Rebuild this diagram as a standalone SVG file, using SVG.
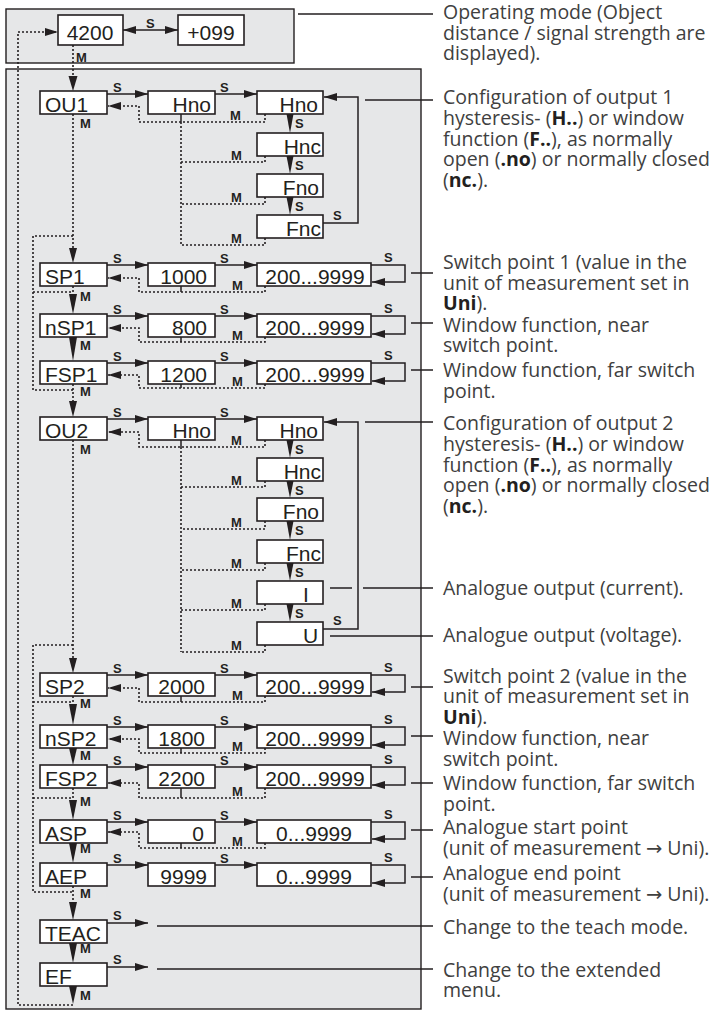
<svg xmlns="http://www.w3.org/2000/svg" width="718" height="1012" viewBox="0 0 718 1012">
<style>
.panel{fill:#e6e7e8;stroke:#231f20;stroke-width:1.4}
.box{fill:#fff;stroke:#231f20;stroke-width:1.6}
.ln{fill:none;stroke:#231f20;stroke-width:1.5}
.dt{fill:none;stroke:#231f20;stroke-width:1.6;stroke-dasharray:2 2}
.ah{fill:#231f20}
.bt{font-family:"Liberation Sans",Arial,sans-serif;font-size:21px;fill:#231f20}
.lb{font-family:"Liberation Sans",Arial,sans-serif;font-size:13px;font-weight:bold;fill:#231f20}
.tx{font-family:"Open Sans","Noto Sans","DejaVu Sans",sans-serif;font-size:19.5px;fill:#404040}
.b{font-weight:bold;fill:#231f20}
</style>
<defs>
<marker id="a" viewBox="0 0 13 8" refX="13" refY="4" markerWidth="13" markerHeight="8" markerUnits="userSpaceOnUse" orient="auto-start-reverse"><path d="M0,0 L13,4 L0,8 z" fill="#231f20"/></marker>
</defs>
<rect class="panel" x="6" y="9" width="288" height="54"/>
<rect class="panel" x="6" y="69" width="415" height="940"/>

<g id="connectors">
<path class="ln" d="M123,30 H178" marker-start="url(#a)" marker-end="url(#a)"/>
<text class="lb" x="146" y="28">S</text>
<path class="dt" d="M73,45 V76"/><polygon class="ah" points="68.5,76 77.5,76 73,91"/>
<text class="lb" x="76" y="62">M</text>
<path class="dt" d="M73,1005 H18 V32 H58" marker-end="url(#a)"/>
<path class="ln" d="M107,94 H148" marker-end="url(#a)"/><text class="lb" x="113" y="92">S</text>
<path class="ln" d="M215,94 H257" marker-end="url(#a)"/><text class="lb" x="220" y="92">S</text>
<path class="dt" d="M265,114 V122 H139 V106 H108" marker-end="url(#a)"/>
<path class="ln" d="M181,114 V122"/>
<path class="dt" d="M181,122 V245"/>
<path class="dt" d="M265,156 V162 H181 M265,197 V204 H181 M265,238 V245 H181"/>
<text class="lb" x="230" y="119.5">M</text><text class="lb" x="231" y="159.5">M</text><text class="lb" x="231" y="201.5">M</text><text class="lb" x="231" y="242.5">M</text>
<polygon class="ah" points="286.5,114 293.5,114 290,133"/><text class="lb" x="295" y="128">S</text>
<polygon class="ah" points="286.5,156 293.5,156 290,174"/><text class="lb" x="295" y="170">S</text>
<polygon class="ah" points="286.5,197 293.5,197 290,215"/><text class="lb" x="295" y="211">S</text>
<path class="ln" d="M323,223 H358 V97 H324" marker-end="url(#a)"/><text class="lb" x="333" y="220">S</text>
<path class="dt" d="M73,114 V248"/><polygon class="ah" points="69,248 77,248 73,263"/><text class="lb" x="80" y="128">M</text>
<path class="dt" d="M73,236 H33 V390 H73 M33,292 H73"/>
<path class="ln" d="M107,265 H148" marker-end="url(#a)"/><text class="lb" x="113" y="263">S</text>
<path class="ln" d="M215,265 H257" marker-end="url(#a)"/><text class="lb" x="220" y="263">S</text>
<path class="dt" d="M265,286 V292 H139 V278 H108" marker-end="url(#a)"/><path class="ln" d="M181,286 V292"/><text class="lb" x="232" y="290">M</text>
<path class="ln" d="M371,265 H405 V282 H372" marker-end="url(#a)"/><text class="lb" x="384" y="262">S</text>
<path class="dt" d="M73,286 V294"/><polygon class="ah" points="69,294 77,294 73,314"/><text class="lb" x="80" y="301">M</text>
<path class="ln" d="M107,316 H148" marker-end="url(#a)"/><text class="lb" x="113" y="314">S</text>
<path class="ln" d="M215,316 H257" marker-end="url(#a)"/><text class="lb" x="220" y="314">S</text>
<path class="dt" d="M265,337 V342 H139 V328 H108" marker-end="url(#a)"/><path class="ln" d="M181,337 V342"/><text class="lb" x="232" y="340">M</text>
<path class="ln" d="M371,316 H405 V334 H372" marker-end="url(#a)"/><text class="lb" x="384" y="313">S</text>
<polygon class="ah" points="69,337 77,337 73,361"/><text class="lb" x="80" y="350">M</text>
<path class="ln" d="M107,363 H148" marker-end="url(#a)"/><text class="lb" x="113" y="361">S</text>
<path class="ln" d="M215,363 H257" marker-end="url(#a)"/><text class="lb" x="220" y="361">S</text>
<path class="dt" d="M265,384 V388 H139 V375 H108" marker-end="url(#a)"/><path class="ln" d="M181,384 V388"/><text class="lb" x="232" y="386">M</text>
<path class="ln" d="M371,363 H405 V381 H372" marker-end="url(#a)"/><text class="lb" x="384" y="360">S</text>
<path class="dt" d="M73,384 V401"/><polygon class="ah" points="69,401 77,401 73,417"/><text class="lb" x="80" y="396">M</text>
<path class="ln" d="M107,419 H148" marker-end="url(#a)"/><text class="lb" x="113" y="417">S</text>
<path class="ln" d="M215,419 H257" marker-end="url(#a)"/><text class="lb" x="220" y="417">S</text>
<path class="dt" d="M265,440 V447 H139 V432 H108" marker-end="url(#a)"/>
<path class="ln" d="M181,440 V447"/>
<path class="dt" d="M181,447 V652"/>
<path class="dt" d="M265,481 V487 H181 M265,521 V529 H181 M265,563 V570 H181 M265,604 V610 H181 M265,645 V652 H181"/>
<text class="lb" x="231" y="444.5">M</text><text class="lb" x="231" y="484.5">M</text><text class="lb" x="231" y="526.5">M</text><text class="lb" x="231" y="567.5">M</text><text class="lb" x="231" y="607.5">M</text><text class="lb" x="231" y="649.5">M</text>
<polygon class="ah" points="286.5,440 293.5,440 290,458"/><text class="lb" x="295" y="454">S</text>
<polygon class="ah" points="286.5,481 293.5,481 290,498"/><text class="lb" x="295" y="495">S</text>
<polygon class="ah" points="286.5,521 293.5,521 290,540"/><text class="lb" x="295" y="535">S</text>
<polygon class="ah" points="286.5,563 293.5,563 290,581"/><text class="lb" x="295" y="577">S</text>
<polygon class="ah" points="286.5,604 293.5,604 290,622"/><text class="lb" x="295" y="618">S</text>
<path class="ln" d="M323,629 H358 V422 H324" marker-end="url(#a)"/><text class="lb" x="333" y="625">S</text>
<path class="dt" d="M73,440 V658"/><polygon class="ah" points="69,658 77,658 73,673"/><text class="lb" x="80" y="454">M</text>
<path class="dt" d="M73,645 H33 V892 H73 M33,702 H73 M33,798 H73"/>
<path class="ln" d="M107,675 H148" marker-end="url(#a)"/><text class="lb" x="113" y="673">S</text>
<path class="ln" d="M215,675 H257" marker-end="url(#a)"/><text class="lb" x="220" y="673">S</text>
<path class="dt" d="M265,696 V702 H139 V688 H108" marker-end="url(#a)"/><path class="ln" d="M181,696 V702"/><text class="lb" x="232" y="700">M</text>
<path class="ln" d="M371,675 H405 V692 H372" marker-end="url(#a)"/><text class="lb" x="384" y="672">S</text>
<path class="dt" d="M73,696 V704"/><polygon class="ah" points="69,704 77,704 73,725"/><text class="lb" x="80" y="708">M</text>
<path class="ln" d="M107,727 H148" marker-end="url(#a)"/><text class="lb" x="113" y="725">S</text>
<path class="ln" d="M215,727 H257" marker-end="url(#a)"/><text class="lb" x="220" y="725">S</text>
<path class="dt" d="M265,748 V753 H139 V739 H108" marker-end="url(#a)"/><path class="ln" d="M181,748 V753"/><text class="lb" x="232" y="751">M</text>
<path class="ln" d="M371,727 H405 V745 H372" marker-end="url(#a)"/><text class="lb" x="384" y="724">S</text>
<polygon class="ah" points="69,748 77,748 73,765"/><text class="lb" x="80" y="760">M</text>
<path class="ln" d="M107,767 H148" marker-end="url(#a)"/><text class="lb" x="113" y="765">S</text>
<path class="ln" d="M215,767 H257" marker-end="url(#a)"/><text class="lb" x="220" y="765">S</text>
<path class="dt" d="M265,788 V798 H139 V783 H108" marker-end="url(#a)"/><path class="ln" d="M181,788 V798"/><text class="lb" x="232" y="796">M</text>
<path class="ln" d="M371,767 H405 V785 H372" marker-end="url(#a)"/><text class="lb" x="384" y="764">S</text>
<path class="dt" d="M73,788 V800"/><polygon class="ah" points="69,800 77,800 73,820"/><text class="lb" x="80" y="806">M</text>
<path class="ln" d="M107,822 H148" marker-end="url(#a)"/><text class="lb" x="113" y="820">S</text>
<path class="ln" d="M215,822 H257" marker-end="url(#a)"/><text class="lb" x="220" y="820">S</text>
<path class="dt" d="M265,843 V848 H139 V832 H108" marker-end="url(#a)"/><path class="ln" d="M181,843 V848"/><text class="lb" x="232" y="846">M</text>
<path class="ln" d="M371,822 H405 V839 H372" marker-end="url(#a)"/><text class="lb" x="384" y="819">S</text>
<polygon class="ah" points="69,843 77,843 73,863"/><text class="lb" x="80" y="853">M</text>
<path class="ln" d="M107,865 H148" marker-end="url(#a)"/><text class="lb" x="113" y="863">S</text>
<path class="ln" d="M215,865 H257" marker-end="url(#a)"/><text class="lb" x="220" y="863">S</text>
<path class="ln" d="M371,865 H405 V883 H372" marker-end="url(#a)"/><text class="lb" x="384" y="862">S</text>
<path class="dt" d="M73,886 V902"/><polygon class="ah" points="69,902 77,902 73,920"/><text class="lb" x="80" y="898">M</text>
<path class="ln" d="M107,923 H148" marker-end="url(#a)"/><text class="lb" x="113" y="920">S</text>
<polygon class="ah" points="69,943 77,943 73,963"/><text class="lb" x="80" y="953">M</text>
<path class="ln" d="M107,967 H148" marker-end="url(#a)"/><text class="lb" x="113" y="964">S</text>
<polygon class="ah" points="69,986 77,986 73,1004"/><text class="lb" x="80" y="1000">M</text>
<path class="ln" d="M298,14 H433 M365,100 H433 M411,273 H433 M411,323 H433 M411,370 H433 M365,422 H433 M330,588 H352 M363,588 H433 M330,636 H433 M411,687 H433 M411,736 H433 M411,783 H433 M411,830 H433 M411,877 H433 M157,926 H433 M157,969 H433"/>
</g>

<g id="n4200"><rect class="box" x="58" y="15" width="65" height="30"/><text class="bt" x="90" y="40" text-anchor="middle">4200</text></g>
<g id="n099"><rect class="box" x="178" y="15" width="66" height="30"/><text class="bt" x="211" y="40" text-anchor="middle">+099</text></g>

<g id="OU1"><rect class="box" x="40" y="91" width="67" height="23"/><text class="bt" x="45" y="111.5">OU1</text></g>
<g id="OU1v"><rect class="box" x="148" y="91" width="67" height="23"/><text class="bt" x="211" y="111.5" text-anchor="end">Hno</text></g>
<g id="OU1Hno"><rect class="box" x="257" y="91" width="66" height="23"/><text class="bt" x="318" y="111.5" text-anchor="end">Hno</text></g>
<g id="OU1Hnc"><rect class="box" x="257" y="133" width="66" height="23"/><text class="bt" x="321" y="153.5" text-anchor="end">Hnc</text></g>
<g id="OU1Fno"><rect class="box" x="257" y="174" width="66" height="23"/><text class="bt" x="319" y="194.5" text-anchor="end">Fno</text></g>
<g id="OU1Fnc"><rect class="box" x="257" y="215" width="66" height="23"/><text class="bt" x="321" y="235.5" text-anchor="end">Fnc</text></g>

<g id="SP1"><rect class="box" x="40" y="263" width="67" height="23"/><text class="bt" x="45" y="283.5">SP1</text></g>
<g id="SP1v"><rect class="box" x="148" y="263" width="67" height="23"/><text class="bt" x="207" y="283.5" text-anchor="end">1000</text></g>
<g id="SP1r"><rect class="box" x="257" y="263" width="114" height="23"/><text class="bt" x="315" y="283.5" text-anchor="middle">200...9999</text></g>

<g id="nSP1"><rect class="box" x="40" y="314" width="67" height="23"/><text class="bt" x="45" y="334.5">nSP1</text></g>
<g id="nSP1v"><rect class="box" x="148" y="314" width="67" height="23"/><text class="bt" x="207" y="334.5" text-anchor="end">800</text></g>
<g id="nSP1r"><rect class="box" x="257" y="314" width="114" height="23"/><text class="bt" x="315" y="334.5" text-anchor="middle">200...9999</text></g>

<g id="FSP1"><rect class="box" x="40" y="361" width="67" height="23"/><text class="bt" x="45" y="381.5">FSP1</text></g>
<g id="FSP1v"><rect class="box" x="148" y="361" width="67" height="23"/><text class="bt" x="207" y="381.5" text-anchor="end">1200</text></g>
<g id="FSP1r"><rect class="box" x="257" y="361" width="114" height="23"/><text class="bt" x="315" y="381.5" text-anchor="middle">200...9999</text></g>

<g id="OU2"><rect class="box" x="40" y="417" width="67" height="23"/><text class="bt" x="45" y="437.5">OU2</text></g>
<g id="OU2v"><rect class="box" x="148" y="417" width="67" height="23"/><text class="bt" x="211" y="437.5" text-anchor="end">Hno</text></g>
<g id="OU2Hno"><rect class="box" x="257" y="417" width="66" height="23"/><text class="bt" x="318" y="437.5" text-anchor="end">Hno</text></g>
<g id="OU2Hnc"><rect class="box" x="257" y="458" width="66" height="23"/><text class="bt" x="321" y="478.5" text-anchor="end">Hnc</text></g>
<g id="OU2Fno"><rect class="box" x="257" y="498" width="66" height="23"/><text class="bt" x="319" y="518.5" text-anchor="end">Fno</text></g>
<g id="OU2Fnc"><rect class="box" x="257" y="540" width="66" height="23"/><text class="bt" x="321" y="560.5" text-anchor="end">Fnc</text></g>
<g id="OU2I"><rect class="box" x="257" y="581" width="66" height="23"/><text class="bt" x="303" y="601.5">I</text></g>
<g id="OU2U"><rect class="box" x="257" y="622" width="66" height="23"/><text class="bt" x="303" y="642.5">U</text></g>

<g id="SP2"><rect class="box" x="40" y="673" width="67" height="23"/><text class="bt" x="45" y="693.5">SP2</text></g>
<g id="SP2v"><rect class="box" x="148" y="673" width="67" height="23"/><text class="bt" x="205" y="693.5" text-anchor="end">2000</text></g>
<g id="SP2r"><rect class="box" x="257" y="673" width="114" height="23"/><text class="bt" x="315" y="693.5" text-anchor="middle">200...9999</text></g>

<g id="nSP2"><rect class="box" x="40" y="725" width="67" height="23"/><text class="bt" x="45" y="745.5">nSP2</text></g>
<g id="nSP2v"><rect class="box" x="148" y="725" width="67" height="23"/><text class="bt" x="205" y="745.5" text-anchor="end">1800</text></g>
<g id="nSP2r"><rect class="box" x="257" y="725" width="114" height="23"/><text class="bt" x="315" y="745.5" text-anchor="middle">200...9999</text></g>

<g id="FSP2"><rect class="box" x="40" y="765" width="67" height="23"/><text class="bt" x="45" y="785.5">FSP2</text></g>
<g id="FSP2v"><rect class="box" x="148" y="765" width="67" height="23"/><text class="bt" x="205" y="785.5" text-anchor="end">2200</text></g>
<g id="FSP2r"><rect class="box" x="257" y="765" width="114" height="23"/><text class="bt" x="315" y="785.5" text-anchor="middle">200...9999</text></g>

<g id="ASP"><rect class="box" x="40" y="820" width="67" height="23"/><text class="bt" x="45" y="840.5">ASP</text></g>
<g id="ASPv"><rect class="box" x="148" y="820" width="67" height="23"/><text class="bt" x="204" y="840.5" text-anchor="end">0</text></g>
<g id="ASPr"><rect class="box" x="257" y="820" width="114" height="23"/><text class="bt" x="314" y="840.5" text-anchor="middle">0...9999</text></g>

<g id="AEP"><rect class="box" x="40" y="863" width="67" height="23"/><text class="bt" x="45" y="883.5">AEP</text></g>
<g id="AEPv"><rect class="box" x="148" y="863" width="67" height="23"/><text class="bt" x="207" y="883.5" text-anchor="end">9999</text></g>
<g id="AEPr"><rect class="box" x="257" y="863" width="114" height="23"/><text class="bt" x="314" y="883.5" text-anchor="middle">0...9999</text></g>

<g id="TEAC"><rect class="box" x="40" y="920" width="67" height="23"/><text class="bt" x="45" y="940.5">TEAC</text></g>
<g id="EF"><rect class="box" x="40" y="963" width="67" height="23"/><text class="bt" x="45" y="983.5">EF</text></g>

<g id="descriptions">
<text class="tx" x="443" y="19"><tspan x="443" y="19">Operating mode (Object</tspan><tspan x="443" y="39.5">distance / signal strength are</tspan><tspan x="443" y="60">displayed).</tspan></text>
<text class="tx" x="443" y="104"><tspan x="443" y="104">Configuration of output 1</tspan><tspan x="443" y="125">hysteresis- (<tspan class="b">H..</tspan>) or window</tspan><tspan x="443" y="145.5">function (<tspan class="b">F..</tspan>), as normally</tspan><tspan x="443" y="166">open (<tspan class="b">.no</tspan>) or normally closed</tspan><tspan x="443" y="187">(<tspan class="b">nc.</tspan>).</tspan></text>
<text class="tx" x="443" y="269"><tspan x="443" y="269">Switch point 1 (value in the</tspan><tspan x="443" y="289.5">unit of measurement set in</tspan><tspan x="443" y="310"><tspan class="b">Uni</tspan>).</tspan></text>
<text class="tx" x="443" y="331.5"><tspan x="443" y="331.5">Window function, near</tspan><tspan x="443" y="352">switch point.</tspan></text>
<text class="tx" x="443" y="377"><tspan x="443" y="377">Window function, far switch</tspan><tspan x="443" y="397.5">point.</tspan></text>
<text class="tx" x="443" y="430"><tspan x="443" y="430">Configuration of output 2</tspan><tspan x="443" y="451">hysteresis- (<tspan class="b">H..</tspan>) or window</tspan><tspan x="443" y="471.5">function (<tspan class="b">F..</tspan>), as normally</tspan><tspan x="443" y="492">open (<tspan class="b">.no</tspan>) or normally closed</tspan><tspan x="443" y="513">(<tspan class="b">nc.</tspan>).</tspan></text>
<text class="tx" x="443" y="595">Analogue output (current).</text>
<text class="tx" x="443" y="641.5">Analogue output (voltage).</text>
<text class="tx" x="443" y="682.5"><tspan x="443" y="682.5">Switch point 2 (value in the</tspan><tspan x="443" y="703">unit of measurement set in</tspan><tspan x="443" y="723.5"><tspan class="b">Uni</tspan>).</tspan></text>
<text class="tx" x="443" y="745"><tspan x="443" y="745">Window function, near</tspan><tspan x="443" y="765.5">switch point.</tspan></text>
<text class="tx" x="443" y="790"><tspan x="443" y="790">Window function, far switch</tspan><tspan x="443" y="810.5">point.</tspan></text>
<text class="tx" x="443" y="834"><tspan x="443" y="834">Analogue start point</tspan><tspan x="443" y="854.5">(unit of measurement → Uni).</tspan></text>
<text class="tx" x="443" y="880"><tspan x="443" y="880">Analogue end point</tspan><tspan x="443" y="901">(unit of measurement → Uni).</tspan></text>
<text class="tx" x="443" y="934">Change to the teach mode.</text>
<text class="tx" x="443" y="976.5"><tspan x="443" y="976.5">Change to the extended</tspan><tspan x="443" y="997">menu.</tspan></text>
</g>
</svg>
